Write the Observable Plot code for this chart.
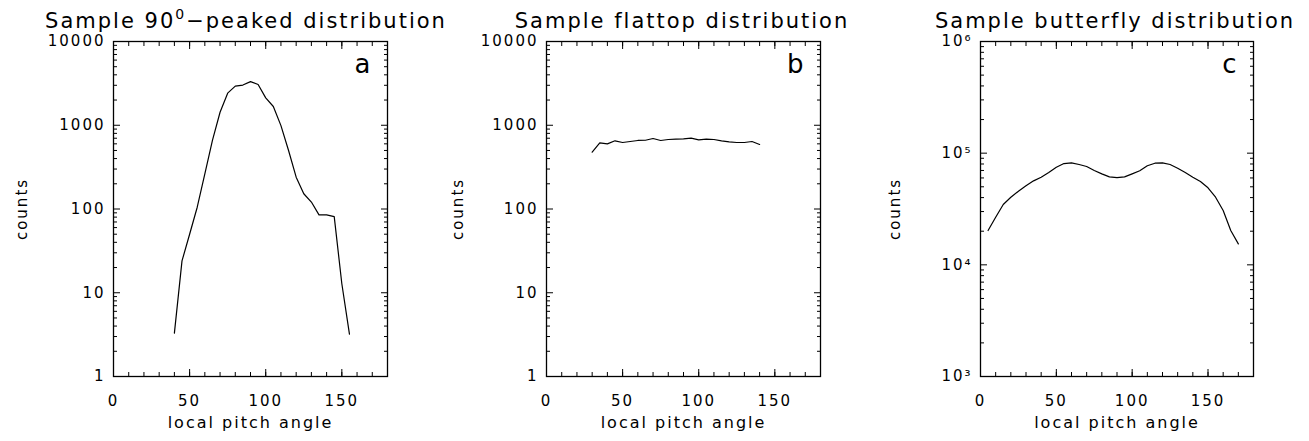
<!DOCTYPE html>
<html><head><meta charset="utf-8">
<script src="https://cdn.jsdelivr.net/npm/d3@7"></script>
<script src="https://cdn.jsdelivr.net/npm/@observablehq/plot@0.6"></script>
<style>
body{margin:0;background:#fff;}
#root{position:relative;width:1309px;height:441px;overflow:hidden;font-family:"DejaVu Sans ExtraLight","DejaVu Sans",sans-serif;color:#000;background:#fff;}
.title{position:absolute;top:7px;z-index:2;white-space:nowrap;font-size:21px;letter-spacing:2px;transform:translateX(-50%);line-height:28px;}
.title sup{font-size:14px;vertical-align:9px;line-height:0;}
.panel{position:absolute;top:0;z-index:1;}
</style></head>
<body><div id="root"></div>
<script>
// ---- data ----
const anglesA = [40,45,50,55,60,65,70,75,80,85,90,95,100,105,110,115,120,125,130,135,140,145,150,155];
const countsA = [3.3,24,50,105,263,660,1430,2415,2930,3020,3320,3070,2125,1675,990,500,240,152,121,85,85,81,12.8,3.2];

const anglesB = [30,35,40,45,50,55,60,65,70,75,80,85,90,95,100,105,110,115,120,125,130,135,140];
const countsB = [477,617,600,652,622,640,658,662,695,658,676,682,689,701,670,682,676,652,634,622,622,640,589];

const anglesC = [5,10,15,20,25,30,35,40,45,50,55,60,65,70,75,80,85,90,95,100,105,110,115,120,125,130,135,140,145,150,155,160,165,170];
const countsC = [20300,26700,34700,40300,45600,51000,56500,60900,67100,74800,80700,81900,79100,75900,69900,65300,61400,60500,61400,65300,69500,77100,81300,81900,79100,73300,67100,60900,55700,49000,40300,30700,20300,15400];

const titles = ["Sample 90<sup>0</sup>\u2212peaked distribution", "Sample flattop distribution", "Sample butterfly distribution"];
const letters = ["a", "b", "c"];
const xLabel = "local pitch angle";
const yLabel = "counts";

const xMajor = [0, 50, 100, 150];
const xMinor = [0,10,20,30,40,50,60,70,80,90,100,110,120,130,140,150,160,170,180];
const yMajorAB = [1, 10, 100, 1000, 10000];
const yLabelsAB = ["1", "10", "100", "1000", "10000"];
const yMajorC = [1e3, 1e4, 1e5, 1e6];
const yLabelsC = ["10\u00B3", "10\u2074", "10\u2075", "10\u2076"];

// ---- layout ----
const panels = [
  {left: 0, width: 436, ml: 113, mr: 49, angles: anglesA, counts: countsA, yDomain: [1, 10000], yMajor: yMajorAB, yLabels: yLabelsAB, titleX: 246},
  {left: 436, width: 437, ml: 110, mr: 53, angles: anglesB, counts: countsB, yDomain: [1, 10000], yMajor: yMajorAB, yLabels: yLabelsAB, titleX: 682},
  {left: 873, width: 436, ml: 107, mr: 56, angles: anglesC, counts: countsC, yDomain: [1e3, 1e6], yMajor: yMajorC, yLabels: yLabelsC, titleX: 1115}
];

function minorLog(domain) {
  const out = [];
  for (let d = domain[0]; d < domain[1]; d *= 10) for (let k = 2; k <= 9; k++) out.push(d * k);
  return out;
}

const FONT = "DejaVu Sans ExtraLight, DejaVu Sans, sans-serif";
const root = document.getElementById("root");
const titleDivs = [];
panels.forEach((p, i) => {
  const data = p.angles.map((a, j) => ({angle: a, count: p.counts[j]}));
  const yMinor = minorLog(p.yDomain);
  const fmt = d => p.yLabels[p.yMajor.indexOf(d)];
  const tk = {fill: "none", label: null, stroke: "black"};
  const chart = Plot.plot({
    width: p.width, height: 441,
    marginTop: 41, marginBottom: 65, marginLeft: p.ml, marginRight: p.mr,
    x: {domain: [0, 180]},
    y: {type: "log", domain: p.yDomain},
    style: {fontFamily: FONT, fontSize: "15px", letterSpacing: "2px", color: "black", background: "transparent", overflow: "visible"},
    marks: [
      Plot.axisX(xMajor, {anchor: "bottom", tickSize: -7, ...tk}),
      Plot.axisX(xMinor, {anchor: "bottom", tickSize: -4, ...tk}),
      Plot.axisX(xMajor, {anchor: "top", tickSize: -7, ...tk}),
      Plot.axisX(xMinor, {anchor: "top", tickSize: -4, ...tk}),
      Plot.axisY(p.yMajor, {anchor: "left", tickSize: -7, ...tk}),
      Plot.axisY(yMinor, {anchor: "left", tickSize: -4, ...tk}),
      Plot.axisY(p.yMajor, {anchor: "right", tickSize: -7, ...tk}),
      Plot.axisY(yMinor, {anchor: "right", tickSize: -4, ...tk}),
      Plot.axisX(xMajor, {anchor: "bottom", tickSize: 0, tickPadding: 19, label: null, fontSize: 15}),
      Plot.axisY(p.yMajor, {anchor: "left", tickSize: 0, tickPadding: 8, tickFormat: fmt, label: null, fontSize: 15}),
      Plot.frame({stroke: "black", strokeWidth: 1.3}),
      Plot.line(data, {x: "angle", y: "count", stroke: "black", strokeWidth: 1.2}),
      Plot.text([letters[i]], {frameAnchor: "top-right", dx: -15, dy: 13, fontSize: 26}),
      Plot.text([yLabel], {frameAnchor: "left", textAnchor: "middle", lineAnchor: "middle", dx: -(p.ml - 22), rotate: -90, fontSize: 15}),
      Plot.text([xLabel], {frameAnchor: "bottom", lineAnchor: "middle", dy: 46, fontSize: 16})
    ]
  });
  chart.classList.add("panel");
  chart.style.left = p.left + "px";
  root.appendChild(chart);
  const t = document.createElement("div");
  t.className = "title";
  t.style.left = p.titleX + "px";
  t.innerHTML = titles[i];
  titleDivs.push(t);
});
titleDivs.forEach(t => root.appendChild(t));
</script></body></html>
